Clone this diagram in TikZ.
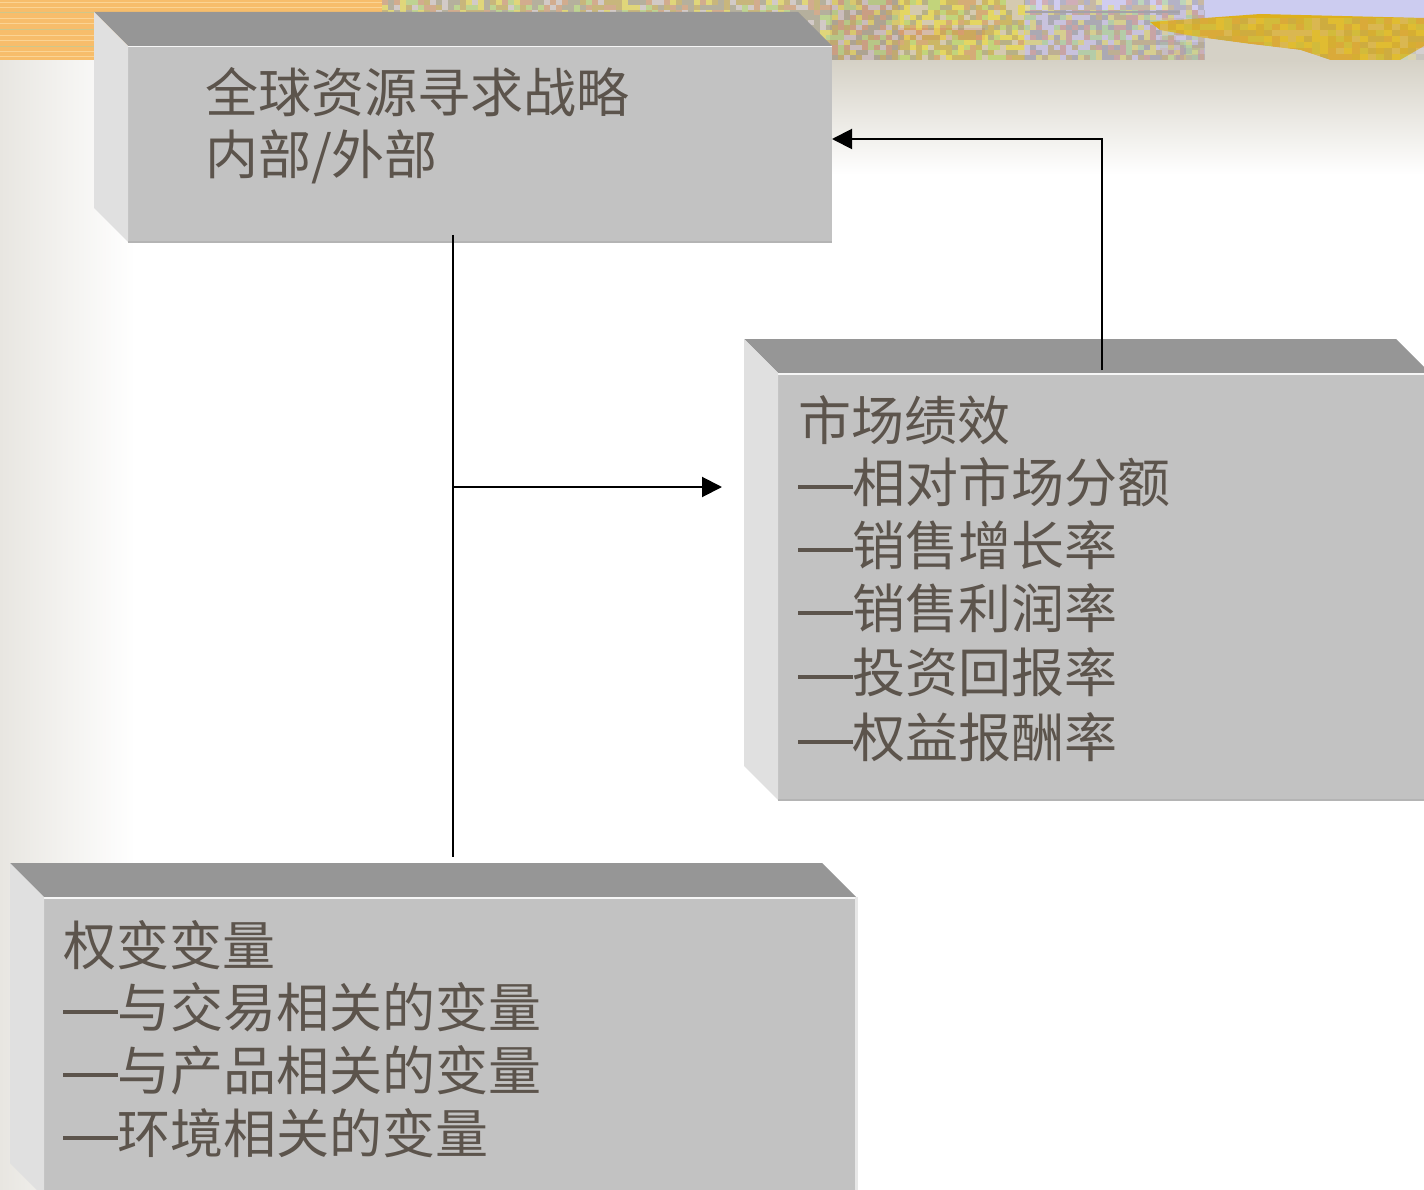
\documentclass[tikz,border=0pt]{standalone}
\usepackage{fontspec}
\newfontfamily\cjk{Noto Sans CJK SC}
\usetikzlibrary{arrows.meta,calc}

\definecolor{txt}{HTML}{5C544C}
\definecolor{facefront}{HTML}{C2C2C2}
\definecolor{facetop}{HTML}{969696}
\definecolor{faceside}{HTML}{E0E0E0}
\definecolor{faceedge}{HTML}{B4B4B4}
\definecolor{leftshade}{HTML}{E8E6E1}
\definecolor{beige}{HTML}{D5D1C6}
\definecolor{stripOrange}{HTML}{F7BD6B}
\definecolor{stripLight}{HTML}{FBD494}
\definecolor{stripKhaki}{HTML}{CFC78A}
\definecolor{stripOlive}{HTML}{BCA56E}
\definecolor{stripYellow}{HTML}{D8C850}
\definecolor{stripAmber}{HTML}{D9A23C}
\definecolor{stripGrey}{HTML}{B6B4C2}
\definecolor{stripLav}{HTML}{CCCCF0}
\definecolor{stripGold}{HTML}{DDB01C}
\definecolor{spPink}{HTML}{D49A92}
\definecolor{spGreen}{HTML}{B4DC98}
\definecolor{spYellow}{HTML}{ECE070}
\definecolor{spTan}{HTML}{C4AC74}
\definecolor{spGrey}{HTML}{A4A2AA}
\definecolor{spLav}{HTML}{D4CCF0}

\pgfmathdeclarerandomlist{speck}{{spPink}{spGreen}{spYellow}{spTan}{spGrey}{spLav}}

% long dash that opens each list item
\newcommand{\itemdash}{\rule[13pt]{55pt}{4pt}\kern-1pt}

\tikzset{
  frontface/.style={fill=facefront, anchor=north west, inner sep=0pt, outer sep=0pt},
  line/.style={font=\cjk\fontsize{53}{63}\selectfont, text=txt, inner sep=0pt, anchor=base west},
  link/.style={draw=black, line width=2pt},
  arrowlink/.style={link, -{Triangle[length=20pt,width=20pt]}}
}

% bevelled box: front face node plus top and left faces
\newcommand{\bevelbox}[6]{%
  \node[frontface, minimum width=#4pt, minimum height=#5pt] (#1) at (#2,#3) {};
  \fill[facetop] ($(#1.north west)+(-#6,-#6)$) -- ($(#1.north east)+(-#6,-#6)$)
     -- (#1.north east) -- (#1.north west) -- cycle;
  \fill[faceside] ($(#1.north west)+(-#6,-#6)$) -- (#1.north west)
     -- (#1.south west) -- ($(#1.south west)+(-#6,-#6)$) -- cycle;
  \draw[faceedge, line width=1.5pt] (#1.south west) -- (#1.south east);
  \draw[white!85!facefront, line width=1.5pt] ([yshift=-0.75pt]#1.north west) -- ([yshift=-0.75pt]#1.north east);
}

\begin{document}
\begin{tikzpicture}[x=1pt,y=-1pt]
\useasboundingbox (0,0) rectangle (1424,1190);
\fill[white] (0,0) rectangle (1424,1190);

% soft shading along the left edge and under the header
\shade[left color=leftshade, right color=white] (0,0) rectangle (135,1190);
\shade[top color=beige, bottom color=white] (400,60) rectangle (1424,175);

% header strip
\fill[stripOrange] (0,0) rectangle (382,60);
\foreach \yy/\cc in {3/stripLight,8/stripLight,13/stripKhaki,19/stripLight,24/stripLight,30/stripKhaki,36/stripLight,41/stripLight,47/stripKhaki,52/stripLight,57/stripLight}{
  \draw[\cc, line width=1pt] (0,\yy) -- (382,\yy);
}
\fill[stripKhaki] (382,0) rectangle (830,60);
\fill[stripOlive] (830,0) rectangle (900,60);
\fill[stripYellow] (900,0) rectangle (1025,60);
\fill[stripAmber] (900,28) rectangle (985,40);
\fill[stripGrey] (1025,0) rectangle (1205,60);
\fill[stripLav] (1025,0) rectangle (1424,10);
\fill[stripLav] (1205,0) rectangle (1424,22);
\fill[beige] (1205,36) rectangle (1424,60);
\pgfmathsetseed{42}
\foreach \px in {382,388,...,1200}{
  \foreach \py in {0,5,...,55}{
    \pgfmathrandomitem{\cc}{speck}
    \fill[\cc, opacity=0.6] (\px,\py) rectangle ++(6,5);
  }
}
\fill[stripGold] (1150,22) -- (1260,14) -- (1424,18) -- (1424,46) -- (1400,60)
  -- (1330,60) -- (1300,50) -- (1250,44) -- (1205,38) -- (1160,30) -- cycle;
\foreach \px in {1160,1168,...,1416}{
  \foreach \py in {18,24,...,54}{
    \pgfmathrandomitem{\cc}{speck}
    \fill[\cc, opacity=0.25] (\px,\py) rectangle ++(8,6);
  }
}
\fill[beige] (1205,38) -- (1250,44) -- (1300,50) -- (1330,60) -- (1205,60) -- cycle;
\draw[spGrey, line width=2pt] (1025,12) -- (1180,12);

% boxes
\bevelbox{src}{128}{46}{704}{196}{34}
\bevelbox{perf}{778}{373}{652}{427}{34}
\bevelbox{var}{44}{897}{812}{300}{34}
\draw[white!60!facefront, line width=3pt] (var.north east) -- (var.south east);

% texts
\node[line] (s1) at (205,113) {全球资源寻求战略};
\node[line] (s2) at (205,175) {内部/外部};

\node[line] (p1) at (798,440) {市场绩效};
\node[line] (p2) at (798,502) {\itemdash 相对市场分额};
\node[line] (p3) at (798,565) {\itemdash 销售增长率};
\node[line] (p4) at (798,628) {\itemdash 销售利润率};
\node[line] (p5) at (798,692) {\itemdash 投资回报率};
\node[line] (p6) at (798,757) {\itemdash 权益报酬率};

\node[line] (v1) at (63,965) {权变变量};
\node[line] (v2) at (63,1027) {\itemdash 与交易相关的变量};
\node[line] (v3) at (63,1090) {\itemdash 与产品相关的变量};
\node[line] (v4) at (63,1153) {\itemdash 环境相关的变量};

% connectors
\coordinate (srcout) at ($(src.south west)+(325,-7)$);
\coordinate (varin) at (srcout |- 0,857);
\coordinate (branch) at (srcout |- 0,487);
\coordinate (perfin) at (722,487);
\coordinate (perfout) at (1102,370);
\coordinate (srcin) at (src.east |- 0,139);

\draw[link] (srcout) -- (varin);
\draw[arrowlink] (branch) -- (perfin);
\draw[arrowlink] (perfout) |- (srcin);
\end{tikzpicture}
\end{document}
